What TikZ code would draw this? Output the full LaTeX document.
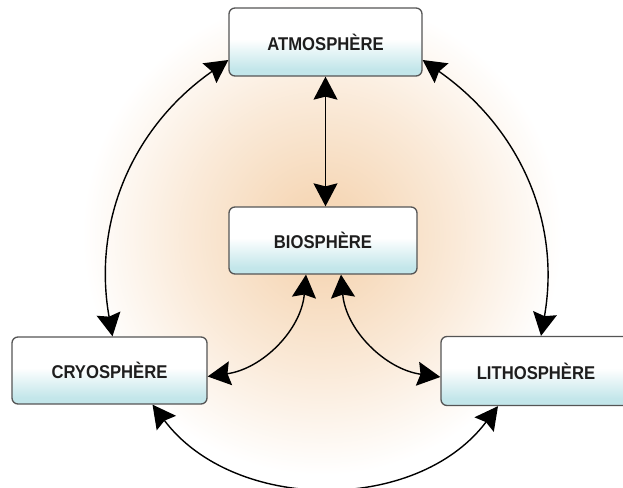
\documentclass[tikz,border=0pt]{standalone}
\usepackage{fontspec}
\setmainfont[FakeStretch=0.9]{Liberation Sans}
\usetikzlibrary{arrows.meta}
\definecolor{peach}{RGB}{246,216,184}
\definecolor{boxcyan}{RGB}{195,230,234}
\definecolor{boxline}{RGB}{85,85,85}
\definecolor{txt}{RGB}{30,30,30}
\pgfdeclareradialshading{glow}{\pgfpoint{0bp}{0bp}}{color(0bp)=(peach); color(4bp)=(peach); color(14bp)=(peach!55!white); color(25bp)=(white); color(50bp)=(white)}
\pgfdeclareverticalshading{boxshade}{100bp}{color(0bp)=(boxcyan); color(30bp)=(boxcyan); color(52bp)=(white); color(100bp)=(white)}
\tikzset{
  sphere/.style={draw=boxline, line width=1.3pt, rounded corners=6pt, shading=boxshade,
    font=\fontsize{18.5}{20}\selectfont\bfseries, text=txt, inner sep=0pt},
  arr/.style={{Stealth[length=23pt,width=24pt,inset=3pt]}-{Stealth[length=23pt,width=24pt,inset=3pt]}, line width=1.4pt, black}
}
\begin{document}
\begin{tikzpicture}[x=1pt,y=1pt]
\fill[white] (0,0) rectangle (623,487);
\useasboundingbox (0,0) rectangle (623,487);
\shade[shading=glow] (322,252) circle (240);
\node[sphere, minimum width=193pt, minimum height=68pt] (atmo) at (325.5,445) {ATMOSPHÈRE};
\node[sphere, minimum width=188pt, minimum height=67pt] (bio) at (323,246.5) {BIOSPHÈRE};
\node[sphere, minimum width=195pt, minimum height=67pt] (cryo) at (109.5,116.5) {CRYOSPHÈRE};
\node[sphere, minimum width=190pt, minimum height=69pt] (litho) at (536,116) {LITHOSPHÈRE};
\draw[arr] (atmo.south) -- (atmo.south |- bio.north);
\draw[arr] ([yshift=-18pt]atmo.west) to[out=215,in=100] ([xshift=3pt]cryo.north);
\draw[arr] ([yshift=-18pt]atmo.east) to[out=-35,in=80] ([xshift=5pt]litho.north);
\draw[arr] ([xshift=43pt]cryo.south) to[out=-53,in=233] ([xshift=-38pt]litho.south);
\draw[arr] ([xshift=-17pt]bio.south) to[out=265,in=8] ([yshift=-6pt]cryo.east);
\draw[arr] ([xshift=18pt]bio.south) to[out=275,in=172] ([yshift=-6pt]litho.west);
\end{tikzpicture}
\end{document}
